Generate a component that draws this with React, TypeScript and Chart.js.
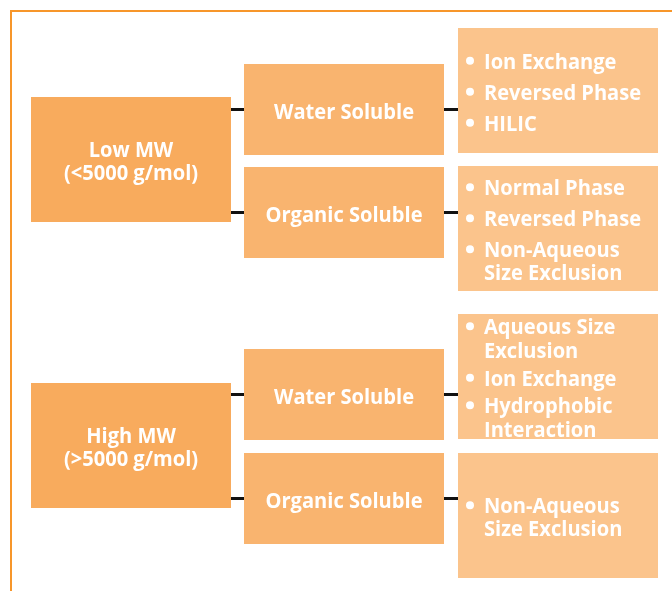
import React, { useEffect, useRef } from "react";
import { Chart, registerables } from "chart.js";

Chart.register(...registerables);

// ---- data (labels only) ----
const levelLabels: string[][] = [
  ["Low MW", "(<5000 g/mol)"],
  ["High MW", "(>5000 g/mol)"],
];
const solubilityLabels: string[] = ["Water Soluble", "Organic Soluble", "Water Soluble", "Organic Soluble"];
const techniqueItems: string[][][] = [
  [["Ion Exchange"], ["Reversed Phase"], ["HILIC"]],
  [["Normal Phase"], ["Reversed Phase"], ["Non-Aqueous", "Size Exclusion"]],
  [["Aqueous Size", "Exclusion"], ["Ion Exchange"], ["Hydrophobic", "Interaction"]],
  [["Non-Aqueous", "Size Exclusion"]],
];
// which level each solubility box belongs to
const solubilityParent: number[] = [0, 0, 1, 1];

// ---- layout (diagram units = pixels) ----
const LAYOUT = {
  frame: { x: 11, y: 11, w: 2, color: "#F7962A" },
  level: { x0: 31, x1: 231, h: 125, tops: [97, 383], color: "#F8AB5D" },
  sol: { x0: 244, x1: 444, h: 91, tops: [64, 167, 349, 453], color: "#F9B46F" },
  tech: {
    x0: 458, x1: 658, h: 125, tops: [28, 166, 314, 453], color: "#FBC48C",
    bulletX: 470, bulletR: 4, textX: 484,
    spacing: [[23, 31], [23, 31], [24, 27.5], [23, 31]],
  },
  connector: { color: "#111111", width: 3 },
  font: { size: 22, family: '"Open Sans", "DejaVu Sans", sans-serif', cap: 15.6, refText: "Water Soluble", refWidth: 140 },
  textColor: "#FFFFFF",
  yOffset: 1.5,
};

const diagramPlugin = {
  id: "diagram",
  beforeDatasetsDraw(chart: any) {
    const { ctx } = chart;
    const xs = chart.scales.x;
    const ys = chart.scales.y;
    const X = (v: number) => xs.getPixelForValue(v);
    const Y = (v: number) => ys.getPixelForValue(v);
    const L = LAYOUT;

    ctx.save();
    ctx.font = `bold ${L.font.size}px ${L.font.family}`;
    const k = L.font.refWidth / ctx.measureText(L.font.refText).width;

    const text = (s: string, x: number, y: number, align: "center" | "left") => {
      const w = ctx.measureText(s).width * k;
      const sx = align === "center" ? x - w / 2 : x;
      ctx.save();
      ctx.translate(sx, y);
      ctx.scale(k, 1);
      ctx.textAlign = "left";
      ctx.textBaseline = "alphabetic";
      ctx.fillStyle = L.textColor;
      ctx.fillText(s, 0, 0);
      ctx.restore();
    };
    const rect = (x0: number, y0: number, x1: number, y1: number, c: string) => {
      ctx.fillStyle = c;
      ctx.fillRect(X(x0), Y(y0), X(x1) - X(x0), Y(y1) - Y(y0));
    };
    const line = (x0: number, y0: number, x1: number, y1: number) => {
      ctx.strokeStyle = L.connector.color;
      ctx.lineWidth = L.connector.width;
      ctx.beginPath();
      ctx.moveTo(X(x0), Y(y0));
      ctx.lineTo(X(x1), Y(y1));
      ctx.stroke();
    };

    // frame
    ctx.strokeStyle = L.frame.color;
    ctx.lineWidth = L.frame.w;
    ctx.beginPath();
    ctx.moveTo(X(L.frame.x), Y(600));
    ctx.lineTo(X(L.frame.x), Y(L.frame.y));
    ctx.lineTo(X(680), Y(L.frame.y));
    ctx.stroke();

    // connectors
    solubilityLabels.forEach((_, i) => {
      const cy = L.sol.tops[i] + L.sol.h / 2;
      line(L.level.x1, cy, L.sol.x0, cy);
      line(L.sol.x1, cy, L.tech.x0, cy);
    });

    // level boxes
    levelLabels.forEach((lines, i) => {
      const top = L.level.tops[i];
      rect(L.level.x0, top, L.level.x1, top + L.level.h, L.level.color);
      const span = (lines.length - 1) * 23 + L.font.cap;
      const capTop = top + (L.level.h - span) / 2 + L.yOffset;
      const cx = (X(L.level.x0) + X(L.level.x1)) / 2;
      lines.forEach((s, j) => text(s, cx, Y(capTop + L.font.cap + j * 23), "center"));
    });

    // solubility boxes
    solubilityLabels.forEach((s, i) => {
      const top = L.sol.tops[i];
      rect(L.sol.x0, top, L.sol.x1, top + L.sol.h, L.sol.color);
      const capTop = top + (L.sol.h - L.font.cap) / 2 + L.yOffset;
      const cx = (X(L.sol.x0) + X(L.sol.x1)) / 2;
      text(s, cx, Y(capTop + L.font.cap), "center");
      void solubilityParent[i];
    });

    // technique boxes
    techniqueItems.forEach((items, i) => {
      const top = L.tech.tops[i];
      rect(L.tech.x0, top, L.tech.x1, top + L.tech.h, L.tech.color);
      const [lg, ig] = L.tech.spacing[i];
      const baselines: { s: string; b: number; bullet: boolean }[] = [];
      let b = 0;
      items.forEach((lines, ii) => {
        if (ii > 0) b += ig;
        lines.forEach((s, j) => {
          if (j > 0) b += lg;
          baselines.push({ s, b, bullet: j === 0 });
        });
      });
      const span = b + L.font.cap;
      const capTop = top + (L.tech.h - span) / 2 + L.yOffset;
      baselines.forEach(({ s, b: bb, bullet }) => {
        const base = capTop + L.font.cap + bb;
        if (bullet) {
          ctx.fillStyle = L.textColor;
          ctx.beginPath();
          ctx.arc(X(L.tech.bulletX), Y(base - 8), L.tech.bulletR, 0, Math.PI * 2);
          ctx.fill();
        }
        text(s, X(L.tech.textX), Y(base), "left");
      });
    });

    ctx.restore();
  },
};

export default function App() {
  const ref = useRef<HTMLCanvasElement | null>(null);
  useEffect(() => {
    if (!ref.current) return;
    const chart = new Chart(ref.current, {
      type: "scatter",
      data: { datasets: [{ data: [], pointRadius: 0 }] },
      options: {
        animation: false,
        responsive: false,
        events: [],
        layout: { padding: 0 },
        plugins: { legend: { display: false }, tooltip: { enabled: false }, title: { display: false } },
        scales: {
          x: { type: "linear", min: 0, max: 672, display: false },
          y: { type: "linear", min: 0, max: 591, reverse: true, display: false },
        },
      },
      plugins: [diagramPlugin],
    });
    return () => chart.destroy();
  }, []);
  return (
    <div style={{ position: "absolute", left: 0, top: 0, width: 672, height: 591, background: "#fff" }}>
      <canvas ref={ref} width={672} height={591} style={{ display: "block" }} />
    </div>
  );
}
